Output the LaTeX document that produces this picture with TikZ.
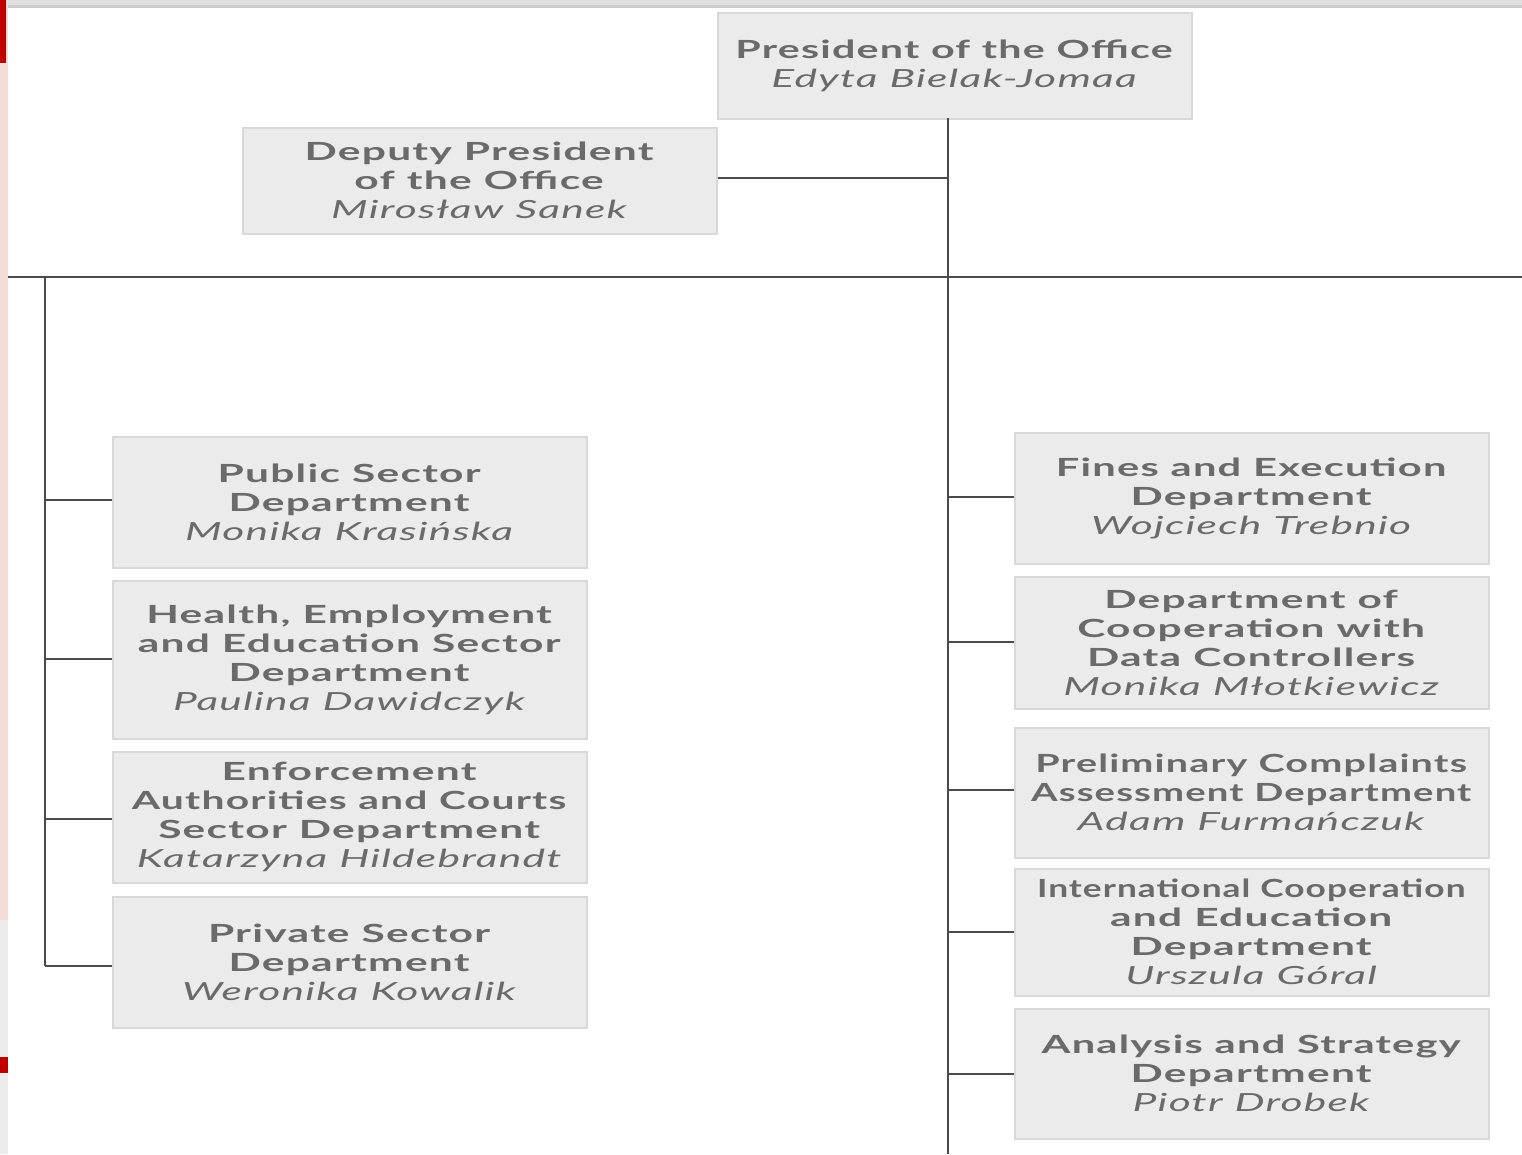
\documentclass[tikz,border=0pt]{standalone}
\usepackage{fontspec}
\setmainfont[FakeStretch=1.7,LetterSpace=5,BoldFont={Lato Bold},ItalicFont={Lato Italic}]{Lato}
\definecolor{boxfill}{HTML}{EBEBEB}
\definecolor{boxline}{HTML}{D8D8D8}
\definecolor{txt}{HTML}{6A6A6A}
\definecolor{conn}{HTML}{4A4A4A}
\definecolor{redbar}{HTML}{C00000}
\definecolor{pinkbar}{HTML}{F6DCD6}
\newcommand{\wsp}{\spaceskip=12pt\relax}
\tikzset{
  orgbox/.style={draw=boxline, line width=1.5pt, fill=boxfill, minimum width=474pt, text width=470pt, inner sep=0pt,
    align=center, text=txt, font=\fontsize{25}{29}\selectfont, anchor=north west},
  link/.style={draw=conn, line width=2.8pt}
}
\newcommand{\nm}[1]{\textit{\textmd{#1}}}
\newcommand{\sq}[2]{\scalebox{#1}[1]{\wsp #2}}
\begin{document}
\begin{tikzpicture}[x=1pt,y=-1pt]
\useasboundingbox (0,0) rectangle (1522,1154);
\fill[white] (0,0) rectangle (1522,1154);
% top edge shading
\fill[gray!25] (8,0) rectangle (1522,8);
\fill[gray!40] (8,5) rectangle (1522,8);
% left strip
\fill[pinkbar] (0,0) rectangle (8,1154);
\fill[gray!15] (0,920) rectangle (8,1154);
\fill[redbar] (0,0) rectangle (6,63);
\fill[redbar] (0,1057) rectangle (8,1073);

% boxes
\node[orgbox, minimum height=106pt] (pres) at (717,12) {\wsp\sq{0.97}{\textbf{President of the Office}}\\\nm{Edyta Bielak-Jomaa}};
\node[orgbox, minimum height=106pt] (dep) at (242,127) {\wsp\textbf{Deputy President}\\\textbf{of the Office}\\\nm{Mirosław Sanek}};

\node[orgbox, minimum height=131pt] (pub) at (112,436) {\wsp\textbf{Public Sector}\\\textbf{Department}\\\nm{Monika Krasińska}};
\node[orgbox, minimum height=158pt] (hea) at (112,580) {\wsp\textbf{Health, Employment}\\\textbf{and Education Sector}\\\textbf{Department}\\\nm{Paulina Dawidczyk}};
\node[orgbox, minimum height=131pt] (enf) at (112,751) {\wsp\textbf{Enforcement}\\\sq{0.96}{\textbf{Authorities and Courts}}\\\textbf{Sector Department}\\\nm{Katarzyna Hildebrandt}};
\node[orgbox, minimum height=131pt] (pri) at (112,896) {\wsp\textbf{Private Sector}\\\textbf{Department}\\\nm{Weronika Kowalik}};

\node[orgbox, minimum height=131pt] (fin) at (1014,432) {\wsp\sq{0.98}{\textbf{Fines and Execution}}\\\textbf{Department}\\\nm{Wojciech Trebnio}};
\node[orgbox, minimum height=132pt] (coo) at (1014,576) {\wsp\textbf{Department of}\\\textbf{Cooperation with}\\\textbf{Data Controllers}\\\nm{Monika Młotkiewicz}};
\node[orgbox, minimum height=130pt] (pre) at (1014,727) {\wsp\sq{0.93}{\textbf{Preliminary Complaints}}\\\sq{0.9}{\textbf{Assessment Department}}\\\nm{Adam Furmańczuk}};
\node[orgbox, minimum height=127pt] (int) at (1014,868) {\wsp\sq{0.83}{\textbf{International Cooperation}}\\\textbf{and Education}\\\textbf{Department}\\\nm{Urszula Góral}};
\node[orgbox, minimum height=130pt] (ana) at (1014,1008) {\wsp\sq{0.98}{\textbf{Analysis and Strategy}}\\\textbf{Department}\\\nm{Piotr Drobek}};

% coordinates
\coordinate (trunkTop) at (948,118);
\coordinate (trunkBot) at (948,1154);
\coordinate (hL) at (8,277);
\coordinate (hR) at (1522,277);
\coordinate (lTop) at (45,277);
\coordinate (lBot) at (45,966);

% connectors
\draw[link] (trunkTop) -- (trunkBot);
\draw[link] (hL) -- (hR);
\draw[link] (dep.east |- 0,178) -- (trunkTop |- 0,178);
\draw[link] (lTop) -- (lBot);
\draw[link] (45,500) -- (pub.west |- 0,500);
\draw[link] (45,659) -- (hea.west |- 0,659);
\draw[link] (45,819) -- (enf.west |- 0,819);
\draw[link] (lBot) -- (pri.west |- 0,966);
\draw[link] (948,497) -- (fin.west |- 0,497);
\draw[link] (948,642) -- (coo.west |- 0,642);
\draw[link] (948,790) -- (pre.west |- 0,790);
\draw[link] (948,932) -- (int.west |- 0,932);
\draw[link] (948,1074) -- (ana.west |- 0,1074);
\end{tikzpicture}
\end{document}
